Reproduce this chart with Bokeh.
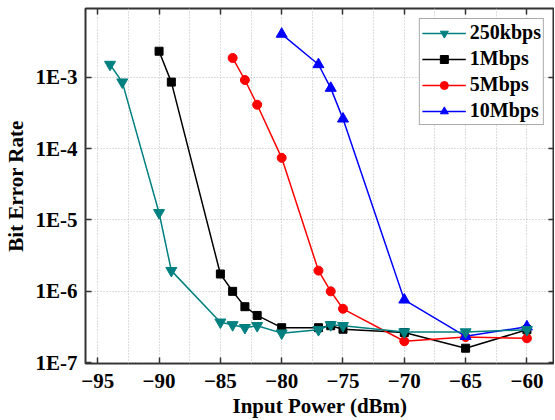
from bokeh.plotting import figure
from bokeh.models import Range1d, LinearAxis, LogAxis, FixedTicker, Legend, LegendItem
from bokeh.embed import file_html
from bokeh.resources import INLINE

# ---- data ----
x_250k = [-94, -93, -90, -89, -85, -84, -83, -82, -80, -77, -76, -75, -70, -65, -60]
ber_250k = [1.5e-3, 8.5e-4, 1.26e-5, 1.95e-6, 3.7e-7, 3.4e-7, 3.1e-7, 3.3e-7, 2.6e-7, 2.9e-7, 3.4e-7, 3.3e-7, 2.7e-7, 2.7e-7, 2.9e-7]

x_1m = [-90, -89, -85, -84, -83, -82, -80, -77, -76, -75, -70, -65, -60]
ber_1m = [2.3e-3, 8.5e-4, 1.75e-6, 1.0e-6, 6.1e-7, 4.6e-7, 3.1e-7, 3.1e-7, 3.3e-7, 2.95e-7, 2.65e-7, 1.6e-7, 2.9e-7]

x_5m = [-84, -83, -82, -80, -77, -76, -75, -70, -65, -60]
ber_5m = [1.85e-3, 9.1e-4, 4.1e-4, 7.4e-5, 1.95e-6, 1.0e-6, 5.7e-7, 2.0e-7, 2.3e-7, 2.2e-7]

x_10m = [-80, -77, -76, -75, -70, -65, -60]
ber_10m = [4.0e-3, 1.5e-3, 7.0e-4, 2.6e-4, 7.6e-7, 2.35e-7, 3.2e-7]

series_names = ["250kbps", "1Mbps", "5Mbps", "10Mbps"]

xticks = [-95, -90, -85, -80, -75, -70, -65, -60]
xminor = [-92.5, -87.5, -82.5, -77.5, -72.5, -67.5, -62.5, -57.5]
yticks = [1e-7, 1e-6, 1e-5, 1e-4, 1e-3]
ytick_labels = ["1E-7", "1E-6", "1E-5", "1E-4", "1E-3"]

FONT = "Liberation Serif"
FS = "21px"

p = figure(width=554, height=420,
           x_range=Range1d(-96, -57.75), y_range=Range1d(10 ** -7.01, 10 ** -2.04),
           y_axis_type="log", output_backend="svg", toolbar_location=None,
           min_border_left=79, min_border_right=0, min_border_top=8, min_border_bottom=0)

p.background_fill_color = "white"
p.border_fill_color = "white"
p.outline_line_color = "#333333"
p.outline_line_width = 2

xt = FixedTicker(ticks=xticks, minor_ticks=xminor)
yt = FixedTicker(ticks=yticks, minor_ticks=[])

p.xaxis.ticker = xt
p.yaxis.ticker = yt
p.xgrid.ticker = xt
p.ygrid.ticker = yt

p.xaxis.axis_label = "Input Power (dBm)"
p.yaxis.axis_label = "Bit Error Rate"
p.yaxis.major_label_overrides = {t: l for t, l in zip(yticks, ytick_labels)}

for ax in [p.xaxis[0], p.yaxis[0]]:
    ax.axis_line_color = None
    ax.major_tick_in = 6
    ax.major_tick_out = 0
    ax.minor_tick_in = 0
    ax.minor_tick_out = 0
    ax.major_tick_line_color = "#333333"
    ax.major_tick_line_width = 1.5
    ax.major_label_text_font = FONT
    ax.major_label_text_font_style = "bold"
    ax.major_label_text_font_size = FS
    ax.major_label_text_color = "black"
    ax.axis_label_text_font = FONT
    ax.axis_label_text_font_style = "bold"
    ax.axis_label_text_font_size = FS
    ax.axis_label_text_color = "black"

p.xaxis.major_label_standoff = 10
p.xaxis.axis_label_standoff = 3
p.yaxis.major_label_standoff = 8
p.yaxis.axis_label_standoff = 5

# mirrored tick axes (top and right), labels empty
top = LinearAxis(ticker=xt)
right = LogAxis(ticker=yt)
top.major_label_overrides = {t: "" for t in xticks}
right.major_label_overrides = {t: "" for t in yticks}
for ax in [top, right]:
    ax.axis_line_color = None
    ax.major_tick_in = 6
    ax.major_tick_out = 0
    ax.minor_tick_in = 0
    ax.minor_tick_out = 0
    ax.major_tick_line_color = "#333333"
    ax.major_tick_line_width = 1.5
    ax.major_label_text_font_size = "1px"
    ax.major_label_text_color = None
    ax.major_label_standoff = 0
p.add_layout(top, "above")
p.add_layout(right, "right")

p.xgrid.grid_line_color = "#bbbbbb"
p.xgrid.grid_line_dash = "1 2"
p.xgrid.minor_grid_line_color = "#bbbbbb"
p.xgrid.minor_grid_line_dash = "1 2"
p.ygrid.grid_line_color = "#bbbbbb"
p.ygrid.grid_line_dash = "1 2"

LW = 1.5
r1l = p.line(x_1m, ber_1m, line_color="black", line_width=LW)
r1s = p.scatter(x_1m, ber_1m, marker="square", size=8, color="black")
r5l = p.line(x_5m, ber_5m, line_color="#ff0000", line_width=LW)
r5s = p.scatter(x_5m, ber_5m, marker="circle", size=9, color="#ff0000")
r10l = p.line(x_10m, ber_10m, line_color="#0000ff", line_width=LW)
r10s = p.scatter(x_10m, ber_10m, marker="triangle", size=11, color="#0000ff")
r25l = p.line(x_250k, ber_250k, line_color="#008080", line_width=LW)
r25s = p.scatter(x_250k, ber_250k, marker="inverted_triangle", size=11, color="#008080")

legend = Legend(items=[
    LegendItem(label=series_names[0], renderers=[r25l, r25s]),
    LegendItem(label=series_names[1], renderers=[r1l, r1s]),
    LegendItem(label=series_names[2], renderers=[r5l, r5s]),
    LegendItem(label=series_names[3], renderers=[r10l, r10s]),
], location="top_right")
legend.label_text_font = FONT
legend.label_text_font_style = "bold"
legend.label_text_font_size = "20px"
legend.label_text_color = "black"
legend.glyph_width = 44
legend.glyph_height = 20
legend.label_height = 20
legend.spacing = 3
legend.padding = 2
legend.label_standoff = 4
legend.margin = 10
legend.border_line_color = "#555555"
legend.border_line_width = 1
legend.background_fill_alpha = 1.0
p.add_layout(legend, "center")

open("out.html", "w").write(file_html(p, INLINE))
